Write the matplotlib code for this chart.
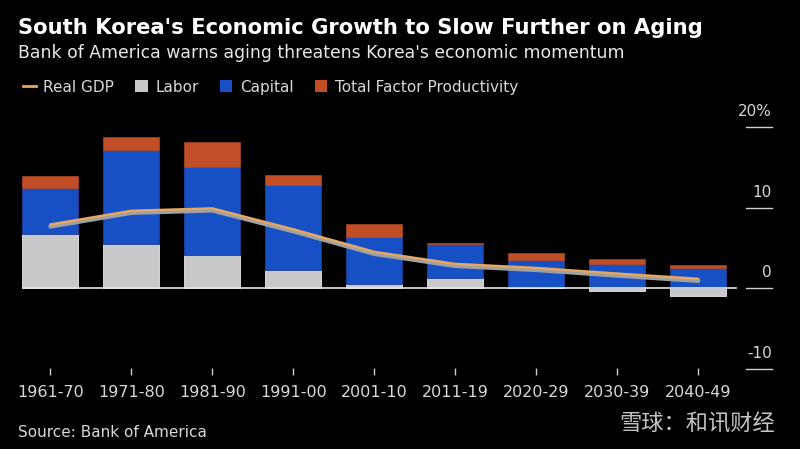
import matplotlib.pyplot as plt
import matplotlib.patheffects as pe
from matplotlib.lines import Line2D
from matplotlib.patches import Patch
import numpy as np

# Decade labels and contributions to growth (percentage points)
periods = ["1961-70", "1971-80", "1981-90", "1991-00", "2001-10",
           "2011-19", "2020-29", "2030-39", "2040-49"]
labor = [6.7, 5.5, 4.1, 2.2, 0.45, 1.25, 0.1, -0.4, -0.95]
capital = [5.7, 11.7, 11.0, 10.6, 5.85, 4.2, 3.45, 3.0, 2.5]
tfp = [1.55, 1.55, 3.0, 1.3, 1.65, 0.2, 0.75, 0.6, 0.42]
real_gdp = [7.9, 9.6, 9.9, 7.3, 4.5, 3.0, 2.5, 1.8, 1.15]
y_ticks = [-10, 0, 10, 20]
y_labels = ["-10", "0", "10", "20%"]

BG = "#000000"
C_LABOR = "#c9c9cb"
C_CAPITAL = "#1650c4"
C_TFP = "#c24e28"
C_GDP = "#e6a764"
TXT = "#d8d8d8"

fig = plt.figure(figsize=(8, 4.49), dpi=100, facecolor=BG)
ax = fig.add_axes([0.0275, 0.1648, 0.9375, 0.570], facecolor=BG)

x = np.arange(len(periods))
labor = np.array(labor)
capital = np.array(capital)
tfp = np.array(tfp)
w = 0.69

cap_bottom = np.clip(labor, 0, None)
ax.bar(x, labor, w, color=C_LABOR, edgecolor="#e8e8ee", linewidth=0.6, zorder=2)
ax.bar(x, capital, w, bottom=cap_bottom, color=C_CAPITAL, edgecolor="#1f3f9a",
       linewidth=0.6, zorder=2)
ax.bar(x, tfp, w, bottom=cap_bottom + capital, color=C_TFP, edgecolor=C_TFP,
       linewidth=0.4, zorder=2)

ax.plot(x, real_gdp, color=C_GDP, lw=1.8, solid_capstyle="round", zorder=4,
        path_effects=[pe.SimpleLineShadow(offset=(0, -1.5), shadow_color="#a0a0a0",
                                          alpha=1.0, linewidth=3.0),
                      pe.Normal()])

ax.set_xlim(-0.35, 8.91)
ax.set_ylim(-10.8, 21)

# zero line across the bars
ax.axhline(0, xmin=0, xmax=(8.46 + 0.35) / 9.26, color="#e6e6e6", lw=1.2, zorder=3)

# right-hand value labels with short rules
ytr = ax.get_yaxis_transform()
for v, lab in zip(y_ticks, y_labels):
    ax.plot([0.9655, 1.0], [v, v], transform=ytr, color="#cfcfcf", lw=1.0, clip_on=False)
    ax.text(1.0, v + 1.0, lab, transform=ytr, ha="right", va="bottom",
            color=TXT, fontsize=11)

for s in ax.spines.values():
    s.set_visible(False)
ax.set_yticks([])
ax.set_xticks(x)
ax.set_xticklabels(periods)
ax.tick_params(axis="x", direction="in", length=5, width=1, color="#cfcfcf",
               labelcolor=TXT, labelsize=11.5, pad=7)

fig.text(0.022, 0.925, "South Korea's Economic Growth to Slow Further on Aging",
         color="white", fontsize=15.2, fontweight="bold", va="baseline")
fig.text(0.022, 0.871, "Bank of America warns aging threatens Korea's economic momentum",
         color="#e8e8e8", fontsize=12.4, va="baseline")

handles = [
    Line2D([0], [0], color=C_GDP, lw=2),
    Patch(facecolor=C_LABOR),
    Patch(facecolor=C_CAPITAL),
    Patch(facecolor=C_TFP),
]
names = ["Real GDP", "Labor", "Capital", "Total Factor Productivity"]
leg = fig.legend(handles, names, loc="center left", bbox_to_anchor=(0.012, 0.806),
                 ncol=4, frameon=False, fontsize=11, handlelength=0.8,
                 handleheight=0.8, handletextpad=0.5, columnspacing=1.4)
for t in leg.get_texts():
    t.set_color(TXT)

fig.text(0.022, 0.02, "Source: Bank of America", color=TXT, fontsize=11,
         va="bottom")
fig.text(0.969, 0.03, "雪球：和讯财经", color="#c4c4c4", fontsize=16,
         ha="right", va="bottom", family=["Noto Sans CJK SC", "DejaVu Sans"])

fig.savefig("out.png", dpi=100, facecolor=BG)
